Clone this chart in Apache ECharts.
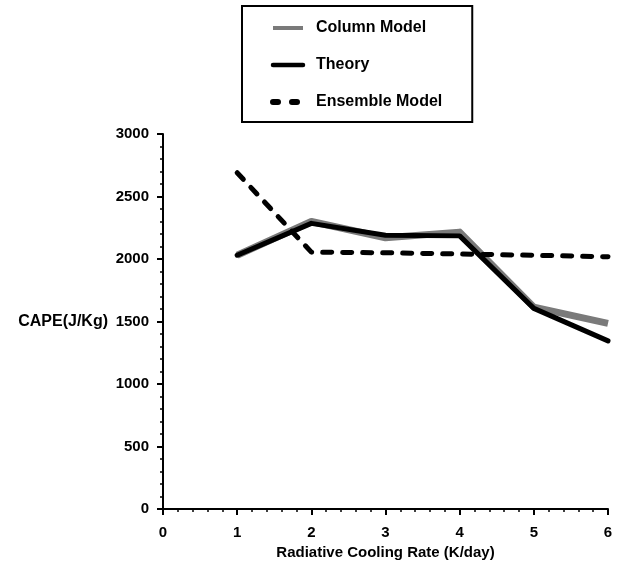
<!DOCTYPE html>
<html>
<head>
<meta charset="utf-8">
<script src="https://cdn.jsdelivr.net/npm/echarts@6/dist/echarts.min.js"></script>
<style>html,body{margin:0;padding:0;background:#fff;}#chart{width:620px;height:566px;}</style>
</head>
<body>
<div id="chart"></div>
<script>
const rates = [1, 2, 3, 4, 5, 6];
const columnModel = [2030, 2300, 2170, 2215, 1615, 1485];
const theory = [2030, 2285, 2190, 2185, 1605, 1345];
const ensembleModel = [2690, 2055, 2050, 2040, 2030, 2018];
const xTicks = [0, 1, 2, 3, 4, 5, 6];
const yTicks = [0, 500, 1000, 1500, 2000, 2500, 3000];

const pairs = v => rates.map((x, i) => [x, v[i]]);
const FONT = '"Liberation Sans", Arial, sans-serif';

const chart = echarts.init(document.getElementById('chart'));
chart.setOption({
  animation: false,
  backgroundColor: '#fff',
  grid: { left: 163, right: 12, top: 134, bottom: 57 },
  legend: {
    orient: 'vertical',
    left: 242, top: 6,
    padding: [14, 30, 12, 28],
    itemGap: 21,
    itemWidth: 30, itemHeight: 14,
    borderColor: '#000', borderWidth: 2,
    itemStyle: { opacity: 0 },
    textStyle: { fontFamily: FONT, fontWeight: 'bold', fontSize: 16, color: '#000', padding: [0, 0, 0, 8] },
    data: [
      { name: 'Column Model', lineStyle: { width: 4, color: '#7a7a7a' } },
      { name: 'Theory', lineStyle: { width: 4.5, color: '#000' } },
      { name: 'Ensemble Model', lineStyle: { width: 6, color: '#000', type: [5, 14], cap: 'round' } }
    ]
  },
  xAxis: {
    type: 'value', min: xTicks[0], max: xTicks[xTicks.length - 1], interval: 1,
    name: 'Radiative Cooling Rate (K/day)', nameLocation: 'middle', nameGap: 29,
    nameTextStyle: { fontFamily: FONT, fontWeight: 'bold', fontSize: 15, color: '#000' },
    axisLine: { lineStyle: { color: '#000', width: 2 } },
    axisTick: { show: true, length: 6, lineStyle: { color: '#000', width: 2 } },
    minorTick: { show: true, splitNumber: 5, length: 3, lineStyle: { color: '#000', width: 1.5 } },
    splitLine: { show: false },
    axisLabel: { margin: 16, fontFamily: FONT, fontWeight: 'bold', fontSize: 15, color: '#000' }
  },
  yAxis: {
    type: 'value', min: yTicks[0], max: yTicks[yTicks.length - 1], interval: 500,
    name: 'CAPE(J/Kg)', nameLocation: 'middle', nameRotate: 0, nameGap: 55,
    nameTextStyle: { fontFamily: FONT, fontWeight: 'bold', fontSize: 16, color: '#000' },
    axisLine: { show: true, lineStyle: { color: '#000', width: 2 } },
    axisTick: { show: true, length: 6, lineStyle: { color: '#000', width: 2 } },
    minorTick: { show: true, splitNumber: 5, length: 3, lineStyle: { color: '#000', width: 1.5 } },
    splitLine: { show: false },
    axisLabel: { margin: 14, fontFamily: FONT, fontWeight: 'bold', fontSize: 15, color: '#000',
      formatter: v => String(v) }
  },
  series: [
    {
      name: 'Column Model', type: 'line', data: pairs(columnModel),
      symbol: 'none', color: '#7a7a7a',
      lineStyle: { color: '#7a7a7a', width: 7, join: 'round' },
      z: 1
    },
    {
      name: 'Theory', type: 'line', data: pairs(theory),
      symbol: 'none', color: '#000',
      lineStyle: { color: '#000', width: 5, join: 'round', cap: 'round' },
      z: 2
    },
    {
      name: 'Ensemble Model', type: 'line', data: pairs(ensembleModel),
      symbol: 'none', color: '#000',
      lineStyle: { color: '#000', width: 5, type: [9, 11], cap: 'round', join: 'round' },
      z: 3
    }
  ]
});
</script>
</body>
</html>
